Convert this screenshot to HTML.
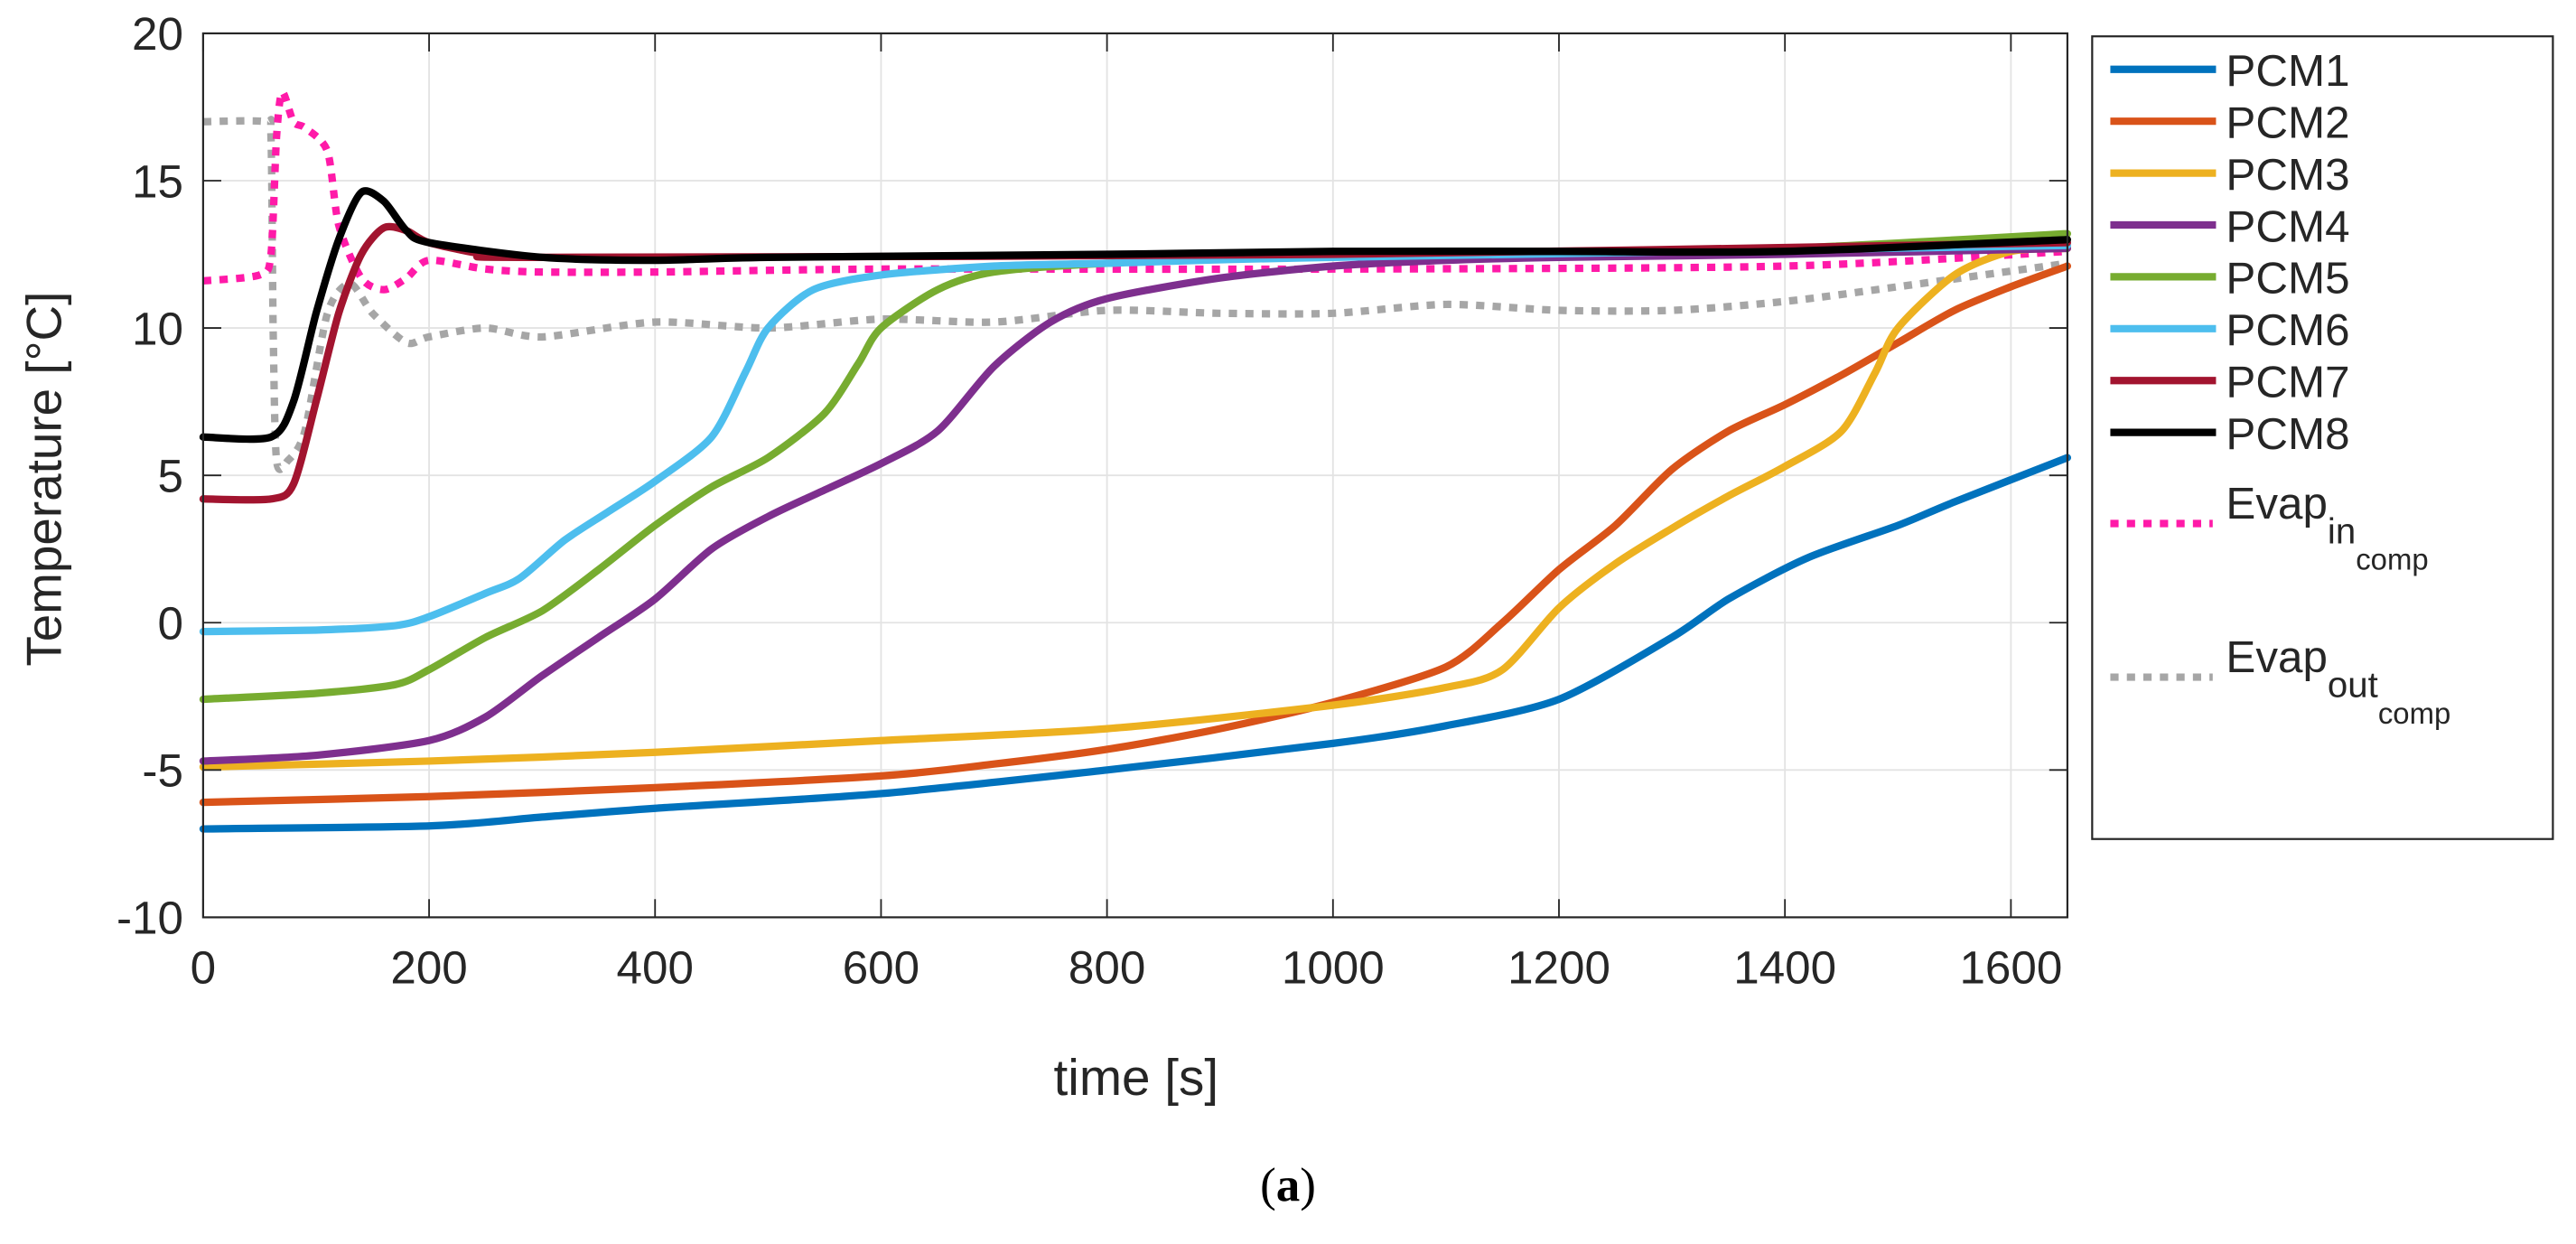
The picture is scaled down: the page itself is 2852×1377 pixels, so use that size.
<!DOCTYPE html>
<html><head><meta charset="utf-8"><style>
html,body{margin:0;padding:0;background:#fff;}
svg{display:block;font-family:"Liberation Sans",Arial,sans-serif;}
</style></head><body>
<svg id="chart" width="2852" height="1377" viewBox="0 0 1560 753.2" xmlns="http://www.w3.org/2000/svg">
<g id="grid"></g>
<g id="series"></g>
<g id="axes"></g>
<text x="0" y="0" font-size="30" fill="#262626" text-anchor="middle" transform="translate(37,290) rotate(-90)">Temperature [°C]</text>
<text x="688" y="663" font-size="31" fill="#262626" text-anchor="middle">time [s]</text>
<text x="780" y="727" font-size="29" fill="#000" text-anchor="middle" font-family="Liberation Serif, serif">(<tspan font-weight="bold">a</tspan>)</text>
<g id="legend"></g>
</svg>
<script>
const xTicks=[0,200,400,600,800,1000,1200,1400,1600];
const yTicks=[-10,-5,0,5,10,15,20];
const seriesNames=["PCM1","PCM2","PCM3","PCM4","PCM5","PCM6","PCM7","PCM8","Evap_in","Evap_out"];
const pcm1T=[0,200,300,400,600,800,1000,1100,1200,1300,1350,1420,1500,1550,1650];
const pcm1V=[-7,-6.9,-6.6,-6.3,-5.8,-5.0,-4.1,-3.5,-2.6,-0.5,0.8,2.2,3.3,4.1,5.6];
const pcm2T=[0,200,400,600,700,800,900,1000,1100,1150,1200,1250,1300,1350,1400,1450,1500,1550,1600,1650];
const pcm2V=[-6.1,-5.9,-5.6,-5.2,-4.8,-4.3,-3.6,-2.7,-1.5,0,1.8,3.3,5.2,6.5,7.4,8.4,9.5,10.6,11.4,12.1];
const pcm3T=[0,200,400,600,800,1000,1100,1150,1200,1250,1300,1350,1400,1450,1480,1500,1550,1600,1650];
const pcm3V=[-4.9,-4.7,-4.4,-4.0,-3.6,-2.8,-2.2,-1.6,0.5,2.0,3.2,4.3,5.3,6.5,8.5,10.0,11.8,12.6,12.7];
const pcm4T=[0,100,200,250,300,350,400,450,500,550,600,650,700,750,800,900,1000,1100,1200,1400,1650];
const pcm4V=[-4.7,-4.5,-4.0,-3.2,-1.8,-0.5,0.8,2.5,3.6,4.5,5.4,6.5,8.7,10.2,11.0,11.7,12.1,12.3,12.4,12.5,12.7];
const pcm5T=[0,100,170,200,250,300,350,400,450,500,550,580,600,650,700,800,1000,1200,1400,1650];
const pcm5V=[-2.6,-2.4,-2.1,-1.6,-0.5,0.4,1.8,3.3,4.6,5.6,7.1,8.8,10.0,11.3,11.9,12.2,12.5,12.6,12.7,13.2];
const pcm6T=[0,100,170,200,250,280,320,360,400,450,480,500,540,600,700,800,1000,1650];
const pcm6V=[-0.3,-0.25,-0.1,0.2,1.0,1.5,2.8,3.8,4.8,6.3,8.5,10.0,11.3,11.8,12.1,12.2,12.4,12.8];
const pcm7T=[0,60,80,100,120,140,160,180,200,250,300,1000,1650];
const pcm7V=[4.2,4.2,4.7,7.5,10.5,12.5,13.4,13.3,12.9,12.5,12.4,12.5,12.9];
const pcm8T=[0,60,80,100,120,140,160,180,200,300,400,500,800,1000,1200,1400,1650];
const pcm8V=[6.3,6.3,7.5,10.5,13.0,14.6,14.3,13.3,12.9,12.4,12.3,12.4,12.5,12.6,12.6,12.6,13.0];
const evapInT=[0,50,60,65,70,80,90,110,120,140,160,180,200,250,300,400,600,1000,1400,1650];
const evapInV=[11.6,11.8,12.5,16.5,18.0,17.0,16.8,16.0,13.5,11.7,11.3,11.7,12.3,12.0,11.9,11.9,12.0,12.0,12.1,12.6];
const evapOutT=[0,55,60,62,65,75,90,110,130,150,180,200,250,300,400,500,600,700,800,900,1000,1100,1200,1300,1400,1500,1650];
const evapOutV=[17.0,17.0,16.5,10,5.5,5.5,6.5,10.5,11.5,10.5,9.5,9.7,10.0,9.7,10.2,10.0,10.3,10.2,10.6,10.5,10.5,10.8,10.6,10.6,10.9,11.4,12.2];

const NS="http://www.w3.org/2000/svg";
const X0=123,X1=1252,Y0=20.2,Y1=555.4,xMin=0,xMax=1650,yMin=-10,yMax=20;
function sx(t){return X0+(t-xMin)/(xMax-xMin)*(X1-X0);}
function sy(v){return Y1-(v-yMin)/(yMax-yMin)*(Y1-Y0);}
function mk(tag,parent,attrs){const e=document.createElementNS(NS,tag);for(const k in attrs)e.setAttribute(k,attrs[k]);parent.appendChild(e);return e;}
function smoothPath(P){
  let d='M'+P[0][0].toFixed(1)+','+P[0][1].toFixed(1);
  for(let i=0;i<P.length-1;i++){
    const p0=P[Math.max(0,i-1)],p1=P[i],p2=P[i+1],p3=P[Math.min(P.length-1,i+2)];
    const k=1/6*0.8;
    const c1=[p1[0]+(p2[0]-p0[0])*k,p1[1]+(p2[1]-p0[1])*k];
    const c2=[p2[0]-(p3[0]-p1[0])*k,p2[1]-(p3[1]-p1[1])*k];
    d+=' C'+c1[0].toFixed(1)+','+c1[1].toFixed(1)+' '+c2[0].toFixed(1)+','+c2[1].toFixed(1)+' '+p2[0].toFixed(1)+','+p2[1].toFixed(1);
  }
  return d;
}
const grid=document.getElementById('grid'),axes=document.getElementById('axes'),ser=document.getElementById('series'),leg=document.getElementById('legend');
xTicks.forEach(t=>{
  const g=mk('line',grid,{x1:sx(t),x2:sx(t),y1:Y0,y2:Y1,stroke:'#e3e3e3','stroke-width':1});
  
  
  const tk=mk('line',axes,{x1:sx(t),x2:sx(t),y1:Y1,y2:Y1-11,stroke:'#262626','stroke-width':1});
  
  
  const tk2=mk('line',axes,{x1:sx(t),x2:sx(t),y1:Y0,y2:Y0+11,stroke:'#262626','stroke-width':1});
  
  
  const l=mk('text',axes,{x:sx(t),y:Y1+40,'font-size':28,fill:'#262626','text-anchor':'middle'});
  l.textContent=t;
  
  
});
yTicks.forEach(v=>{
  const g=mk('line',grid,{x1:X0,x2:X1,y1:sy(v),y2:sy(v),stroke:'#e3e3e3','stroke-width':1});
  
  
  const tk=mk('line',axes,{x1:X0,x2:X0+11,y1:sy(v),y2:sy(v),stroke:'#262626','stroke-width':1});
  
  
  const tk2=mk('line',axes,{x1:X1,x2:X1-11,y1:sy(v),y2:sy(v),stroke:'#262626','stroke-width':1});
  
  
  const l=mk('text',axes,{x:X0-12,y:sy(v)+10,'font-size':28,fill:'#262626','text-anchor':'end'});
  l.textContent=v;
  
  
});
const box=mk('rect',axes,{x:X0,y:Y0,width:X1-X0,height:Y1-Y0,fill:'none',stroke:'#262626','stroke-width':1.2});



const seriesT=[pcm1T,pcm2T,pcm3T,pcm4T,pcm5T,pcm6T,pcm7T,pcm8T,evapInT,evapOutT];
const seriesV=[pcm1V,pcm2V,pcm3V,pcm4V,pcm5V,pcm6V,pcm7V,pcm8V,evapInV,evapOutV];
const colors=['#0072BD','#D95319','#EDB120','#7E2F8E','#77AC30','#4DBEEE','#A2142F','#000000','#FF1AA8','#A6A6A6'];
const order=[9,8,0,1,2,3,4,5,6,7];
order.forEach(i=>{
  const P=seriesT[i].map((t,j)=>[sx(t),sy(seriesV[i][j])]);
  const dotted=i>=8;
  const p=mk('path',ser,{d:smoothPath(P),fill:'none',stroke:colors[i],'stroke-width':dotted?4.5:4.5,'stroke-linejoin':'round','stroke-linecap':dotted?'butt':'round'});
  if(dotted)p.setAttribute('stroke-dasharray','5 5');
  
  
});

const lb=mk('rect',leg,{x:1267,y:22,width:279,height:486,fill:'#fff',stroke:'#262626','stroke-width':1.2});


for(let i=0;i<8;i++){
  const y=42+i*31.4;
  const ln=mk('line',leg,{x1:1278,x2:1342,y1:y,y2:y,stroke:colors[i],'stroke-width':4.5});
  
  
  const t=mk('text',leg,{x:1348,y:y+10,'font-size':27,fill:'#262626'});
  t.textContent=seriesNames[i];
  
  
}
[[317,'Evap','in'],[410,'Evap','out']].forEach((e,k)=>{
  const ln=mk('line',leg,{x1:1278,x2:1340,y1:e[0],y2:e[0],stroke:colors[8+k],'stroke-width':4.5,'stroke-dasharray':'5 5'});
  
  
  const t=mk('text',leg,{x:1348,y:e[0]-3,'font-size':27,fill:'#262626'});
  
  
  const a=mk('tspan',t,{});a.textContent=e[1];
  const b=mk('tspan',t,{dy:15,'font-size':22});b.textContent=e[2];
  const c=mk('tspan',t,{dy:16,'font-size':18});c.textContent='comp';
});
</script>
</body></html>
